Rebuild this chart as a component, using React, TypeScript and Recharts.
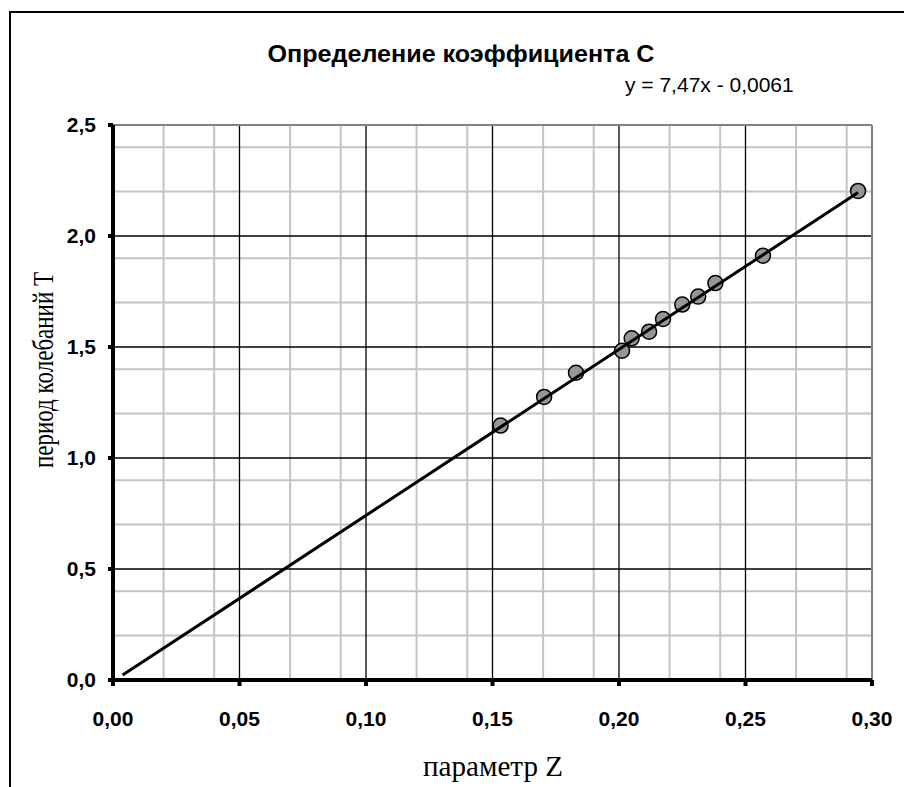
import React from 'react';
import {
  ScatterChart, Scatter,
  XAxis, YAxis,
  CartesianGrid
} from 'recharts';

/* Определение коэффициента С: период колебаний T от параметра Z */
const zValues = [0.1532, 0.1704, 0.1830, 0.2012, 0.2050, 0.2119, 0.2174, 0.2250, 0.2313, 0.2381, 0.2569, 0.2945];
const tValues = [1.146, 1.275, 1.384, 1.483, 1.539, 1.569, 1.626, 1.691, 1.727, 1.788, 1.911, 2.203];

// линия тренда (y = 7,47x - 0,0061), концы
const trendZ = [0.0038, 0.2945];
const trendT = [0.022, 2.196];

const xTicks = [0, 0.05, 0.1, 0.15, 0.2, 0.25, 0.3];
const yTicks = [0, 0.5, 1.0, 1.5, 2.0, 2.5];

const xMinor = [0.01, 0.02, 0.03, 0.04, 0.06, 0.07, 0.08, 0.09, 0.11, 0.12, 0.13, 0.14, 0.16, 0.17, 0.18, 0.19,
  0.21, 0.22, 0.23, 0.24, 0.26, 0.27, 0.28, 0.29];
const yMinor = [0.1, 0.2, 0.3, 0.4, 0.6, 0.7, 0.8, 0.9, 1.1, 1.2, 1.3, 1.4, 1.6, 1.7, 1.8, 1.9, 2.1, 2.2, 2.3, 2.4];
const xMajor = [0.05, 0.1, 0.15, 0.2, 0.25];
const yMajor = [0.5, 1.0, 1.5, 2.0];

const points = zValues.map((z, i) => ({ z, t: tValues[i] }));
const trend = trendZ.map((z, i) => ({ z, t: trendT[i] }));

const SANS = '"Liberation Sans", Arial, sans-serif';
const SERIF = '"Liberation Serif", "Times New Roman", serif';

const tickStyle = { fontSize: 21, fontWeight: 'bold', fill: '#000', fontFamily: SANS };

function Dot(props: any) {
  return <circle cx={props.cx} cy={props.cy} r={7.5} fill="#969696" stroke="#000" strokeWidth={1.5} />;
}

export default function App() {
  return (
    <div style={{ position: 'relative', width: 904, height: 787, overflow: 'hidden', background: '#fff' }}>
      <style>{'body{margin:0}'}</style>
      <ScatterChart width={904} height={787} margin={{ top: 125, right: 32, bottom: 0, left: 0 }}>
        <CartesianGrid horizontalValues={yMinor} verticalValues={xMinor} stroke="#c4c4c4" strokeWidth={2} />
        <CartesianGrid horizontalValues={yMajor} verticalValues={xMajor} stroke="#000" strokeWidth={1.3} />
        <CartesianGrid horizontalValues={[2.5]} verticalValues={[0.3]} stroke="#808080" strokeWidth={2} />
        <XAxis
          type="number"
          dataKey="z"
          domain={[0, 0.3]}
          ticks={xTicks}
          allowDataOverflow
          height={107}
          tickSize={6}
          tickMargin={25}
          axisLine={{ stroke: '#000', strokeWidth: 4 }}
          tickLine={{ stroke: '#000', strokeWidth: 4 }}
          tick={tickStyle}
          tickFormatter={(v: number) => v.toFixed(2).replace('.', ',')}
        />
        <YAxis
          type="number"
          dataKey="t"
          domain={[0, 2.5]}
          ticks={yTicks}
          allowDataOverflow
          width={113}
          tickSize={5}
          tickMargin={12}
          axisLine={{ stroke: '#000', strokeWidth: 4 }}
          tickLine={{ stroke: '#000', strokeWidth: 4 }}
          tick={tickStyle}
          tickFormatter={(v: number) => v.toFixed(1).replace('.', ',')}
        />
        <Scatter data={points} shape={Dot} isAnimationActive={false} />
        <Scatter
          data={trend}
          line={{ stroke: '#000', strokeWidth: 3 }}
          shape={() => <g />}
          isAnimationActive={false}
        />
      </ScatterChart>
      <svg width={904} height={787} style={{ position: 'absolute', left: 0, top: 0, pointerEvents: 'none' }}>
        <rect x={10} y={12} width={1000} height={1000} fill="none" stroke="#000" strokeWidth={2} />
        <text x={461} y={62} textAnchor="middle" fontFamily={SANS} fontWeight="bold" fontSize={24}
          textLength={387} lengthAdjust="spacingAndGlyphs">
          Определение коэффициента С
        </text>
        <text x={625} y={92} fontFamily={SANS} fontSize={21}>y = 7,47x - 0,0061</text>
        <text x={493} y={776} textAnchor="middle" fontFamily={SERIF} fontSize={29}
          textLength={140} lengthAdjust="spacingAndGlyphs">параметр Z</text>
        <text
          x={53}
          y={370}
          textAnchor="middle"
          fontFamily={SERIF}
          fontSize={29}
          textLength={196}
          lengthAdjust="spacingAndGlyphs"
          transform="rotate(-90 53 370)"
        >
          период колебаний Т
        </text>
      </svg>
    </div>
  );
}
